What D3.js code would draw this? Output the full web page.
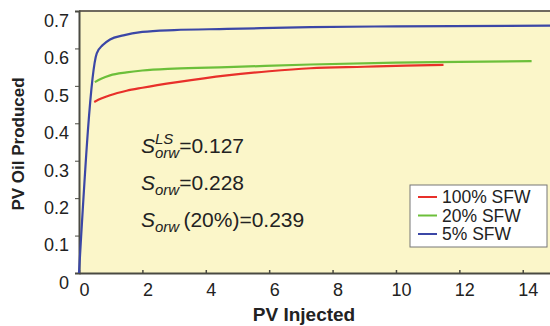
<!DOCTYPE html>
<html>
<head>
<meta charset="utf-8">
<script src="https://cdn.jsdelivr.net/npm/d3@7"></script>
<style>
  body { margin: 0; background: #fff; }
  text { font-family: Arial, "Liberation Sans", sans-serif; }
</style>
</head>
<body>
<script>
// data (x = PV injected, y = PV oil produced)
const sfw100 = [[0.48, 0.457], [0.7, 0.466], [0.98, 0.475], [1.5, 0.487], [2.0, 0.495], [3.1, 0.51], [4.67, 0.528], [6.0, 0.539], [7.3, 0.547], [9.0, 0.551], [10.3, 0.554], [11.5, 0.556]];
const sfw20 = [[0.5, 0.51], [0.7, 0.519], [0.98, 0.528], [1.5, 0.536], [2.0, 0.541], [3.0, 0.546], [4.67, 0.55], [7.3, 0.557], [10.0, 0.562], [12.0, 0.564], [14.28, 0.566]];
const sfw5 = [[0, 0], [0.56, 0.587], [0.75, 0.609], [0.98, 0.624], [1.4, 0.635], [2.0, 0.644], [3.0, 0.649], [4.67, 0.652], [7.3, 0.657], [10.0, 0.659], [14.86, 0.661]];
const seriesNames = ["100% SFW", "20% SFW", "5% SFW"];
const seriesColors = ["#e8302a", "#6cbf3a", "#3b47a6"];
const xTicks = [0, 2, 4, 6, 8, 10, 12, 14];
const yTicks = [0, 0.1, 0.2, 0.3, 0.4, 0.5, 0.6, 0.7];

const W = 550, H = 326;
const margin = { top: 11, right: 0, bottom: 53, left: 79 };

const svg = d3.select("body").append("svg")
    .attr("width", W).attr("height", H);

const x = d3.scaleLinear().domain([0, 14.86]).range([margin.left, W - margin.right]);
const y = d3.scaleLinear().domain([0, 0.7]).range([H - margin.bottom, margin.top]);

// plot background
svg.append("rect")
    .attr("x", x(0)).attr("y", y(0.7))
    .attr("width", x.range()[1] - x(0)).attr("height", y(0) - y(0.7))
    .attr("fill", "#fbf6c9");

// top border
svg.append("line")
    .attr("x1", x(0)).attr("x2", x.range()[1])
    .attr("y1", y(0.7)).attr("y2", y(0.7))
    .attr("stroke", "#6f6a5e").attr("stroke-width", 2);

// left axis
const yAxis = svg.append("g")
    .attr("transform", `translate(${x(0)},0)`)
    .call(d3.axisLeft(y).tickValues(yTicks).tickSize(4).tickPadding(6)
        .tickFormat(d => d === 0 ? "0" : d3.format(".1f")(d)));
yAxis.select(".domain").attr("stroke", "#4a4a42").attr("stroke-width", 2);
yAxis.selectAll(".tick line").attr("stroke", "#4a4a42");
yAxis.selectAll(".tick text")
    .attr("font-size", 18).attr("fill", "#222").attr("dy", "0.85em");

// bottom axis
const xAxis = svg.append("g")
    .attr("transform", `translate(0,${y(0)})`)
    .call(d3.axisBottom(x).tickValues(xTicks).tickSizeInner(-3).tickSizeOuter(0).tickPadding(10));
xAxis.select(".domain").attr("stroke", "#4a4a42").attr("stroke-width", 2);
xAxis.selectAll(".tick line").attr("stroke", "#4a4a42").attr("stroke-width", 1.5);
xAxis.selectAll(".tick text")
    .attr("font-size", 18).attr("fill", "#222").attr("dx", 5);

// axis titles
svg.append("text")
    .attr("transform", `translate(24,${(y(0) + y(0.7)) / 2 + 2}) rotate(-90)`)
    .attr("text-anchor", "middle")
    .attr("font-size", 17).attr("font-weight", "bold").attr("fill", "#222")
    .text("PV Oil Produced");
svg.append("text")
    .attr("x", 304).attr("y", 321)
    .attr("text-anchor", "middle")
    .attr("font-size", 19).attr("font-weight", "bold").attr("fill", "#222")
    .text("PV Injected");

// curves
const line = d3.line().x(d => x(d[0])).y(d => y(d[1])).curve(d3.curveMonotoneX);
[sfw100, sfw20, sfw5].forEach((s, i) => {
    svg.append("path")
        .datum(s)
        .attr("fill", "none")
        .attr("stroke", seriesColors[i])
        .attr("stroke-width", 2.2)
        .attr("d", line);
});

// annotations
const ann = svg.append("g").attr("font-size", 21).attr("fill", "#222");
function sLabel(g, xx, yy, sup, tail) {
    const t = g.append("text").attr("x", xx).attr("y", yy);
    t.append("tspan").attr("font-style", "italic").text("S");
    if (sup) {
        t.append("tspan").attr("font-style", "italic").attr("font-size", 15)
            .attr("dy", -9).text(sup);
        t.append("tspan").attr("font-style", "italic").attr("font-size", 15)
            .attr("x", xx + 14).attr("dy", 14).text("orw");
        t.append("tspan").attr("dy", -5).text(tail);
    } else {
        t.append("tspan").attr("font-style", "italic").attr("font-size", 15)
            .attr("dy", 5).text("orw");
        t.append("tspan").attr("dy", -5).text(tail);
    }
}
sLabel(ann, 141, 153, "LS", "=0.127");
sLabel(ann, 141, 190, null, "=0.228");
sLabel(ann, 141, 227, null, "\u2009(20%)=0.239");

// legend
const lg = svg.append("g").attr("transform", "translate(410,185)");
lg.append("rect").attr("width", 137).attr("height", 62)
    .attr("fill", "#fff").attr("stroke", "#777").attr("stroke-width", 1);
seriesNames.forEach((n, i) => {
    const yy = 12 + i * 18.5;
    lg.append("line").attr("x1", 8).attr("x2", 27).attr("y1", yy).attr("y2", yy)
        .attr("stroke", seriesColors[i]).attr("stroke-width", 2);
    lg.append("text").attr("x", 32).attr("y", yy + 6)
        .attr("font-size", 17.5).attr("fill", "#222").text(n);
});
</script>
</body>
</html>
